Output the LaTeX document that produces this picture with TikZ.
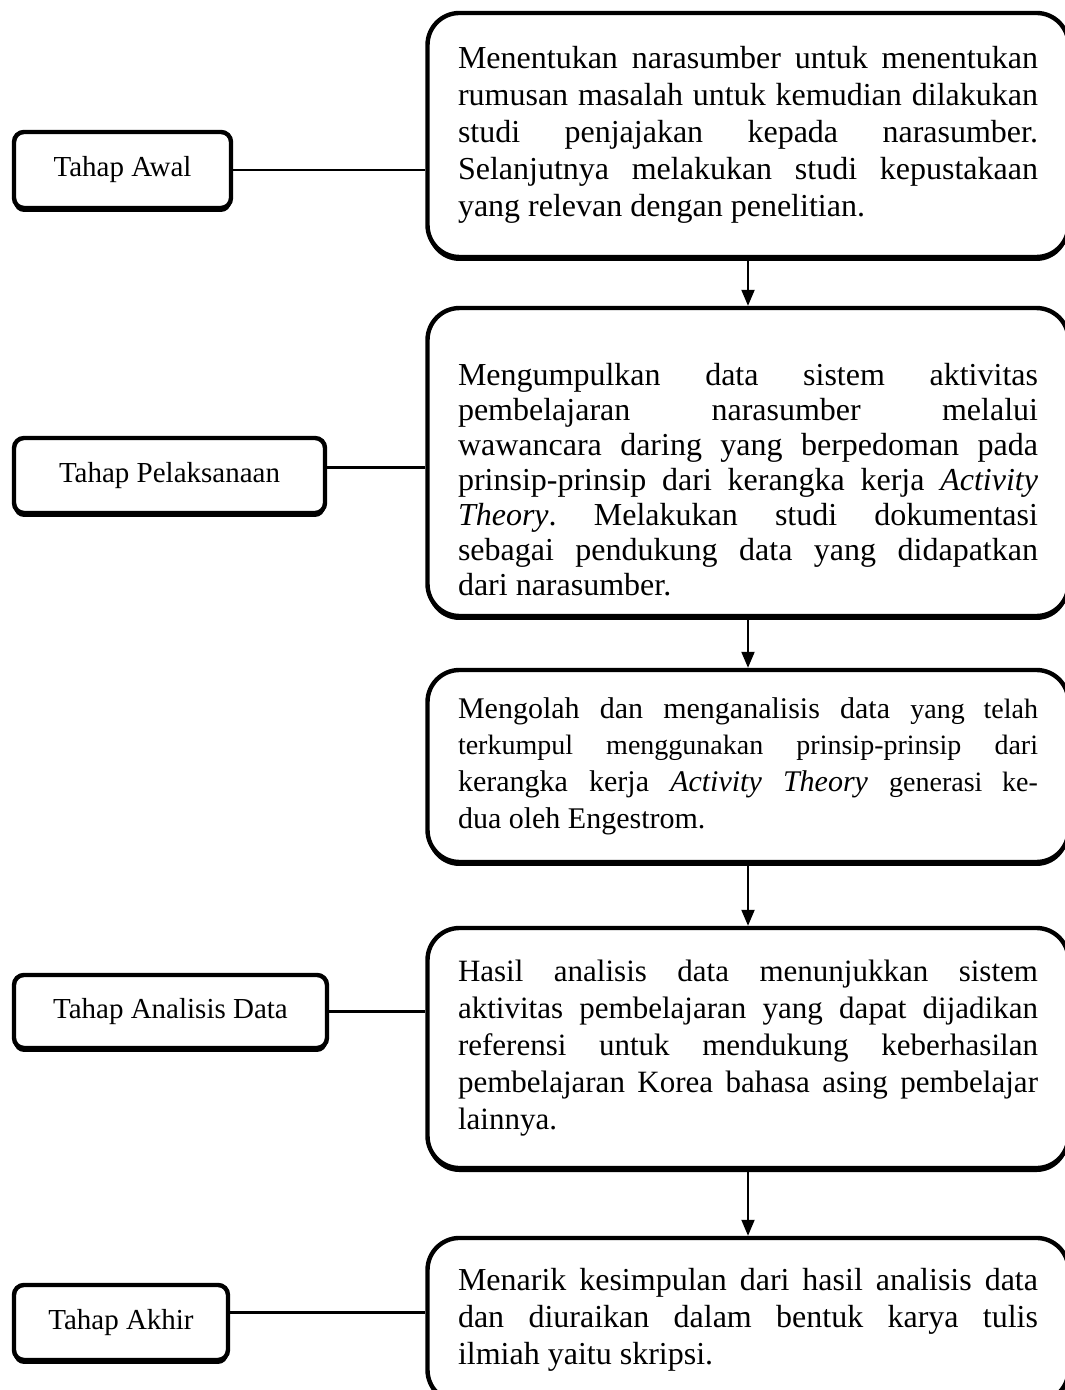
\documentclass[tikz,border=0pt]{standalone}
\usepackage{fontspec}
\setmainfont{Liberation Serif}
\usetikzlibrary{arrows.meta,shadows}
\pgfdeclarelayer{edgelayer}
\pgfdeclarelayer{nodelayer}
\pgfsetlayers{edgelayer,nodelayer,main}
\tolerance=10000
\hbadness=10000
\frenchspacing
\tikzstyle{tahap}=[rectangle,rounded corners=5pt,draw,line width=2.2pt,fill=white,drop shadow={shadow xshift=0pt,shadow yshift=-2pt,opacity=1,fill=black},inner sep=0pt,font=\fontsize{14.5}{17}\selectfont]
\tikzstyle{uraian}=[rectangle,rounded corners=16pt,draw,line width=2.2pt,fill=white,drop shadow={shadow xshift=0pt,shadow yshift=-2pt,opacity=1,fill=black},text width=290pt,inner xsep=15.25pt,align=justify,font=\fontsize{16}{18.5}\selectfont]
\tikzstyle{garis}=[line width=1.4pt]
\tikzstyle{panah}=[line width=1pt,-{Triangle[width=6.5pt,length=8pt]}]

\begin{document}
\begin{tikzpicture}
	\useasboundingbox (0, 0) rectangle (18.715, -24.427);
	\begin{pgfonlayer}{nodelayer}
		\node [style=uraian, minimum height=4.288cm] (0) at (13.145, -2.372) {Menentukan narasumber untuk menentukan\linebreak rumusan masalah untuk kemudian dilakukan\linebreak studi penjajakan kepada narasumber.\linebreak Selanjutnya melakukan studi kepustakaan\linebreak yang relevan dengan penelitian.};
		\node [style=tahap, minimum width=3.813cm, minimum height=1.336cm] (1) at (2.153, -2.987) {Tahap Awal};
		\node [style=uraian, minimum height=5.412cm, font=\fontsize{16}{17.5}\selectfont] (2) at (13.145, -8.119) {\rule{0pt}{29pt}Mengumpulkan data sistem aktivitas\linebreak pembelajaran narasumber melalui\linebreak wawancara daring yang berpedoman pada\linebreak prinsip-prinsip dari kerangka kerja \textit{Activity}\linebreak \textit{Theory}. Melakukan studi dokumentasi\linebreak sebagai pendukung data yang didapatkan\linebreak dari narasumber.};
		\node [style=tahap, minimum width=5.465cm, minimum height=1.318cm] (3) at (2.979, -8.356) {Tahap Pelaksanaan};
		\node [style=uraian, minimum height=3.374cm, font=\fontsize{15}{18.3}\selectfont] (4) at (13.145, -13.461) {Mengolah dan menganalisis data {\fontsize{14}{18.3}\selectfont yang telah}\linebreak {\fontsize{14}{18.3}\selectfont terkumpul menggunakan prinsip-prinsip dari}\linebreak kerangka kerja \textit{Activity Theory} {\fontsize{14}{18.3}\selectfont generasi ke-}\linebreak dua oleh Engestrom.};
		\node [style=uraian, minimum height=4.218cm, font=\fontsize{15.5}{18.5}\selectfont] (5) at (13.145, -18.417) {Hasil analisis data menunjukkan sistem\linebreak aktivitas pembelajaran yang dapat dijadikan\linebreak referensi untuk mendukung keberhasilan\linebreak pembelajaran Korea bahasa asing pembelajar\linebreak lainnya.};
		\node [style=tahap, minimum width=5.5cm, minimum height=1.283cm] (6) at (2.996, -17.775) {Tahap Analisis Data};
		\node [style=uraian, minimum height=2.882cm] (7) at (13.145, -23.196) {Menarik kesimpulan dari hasil analisis data\linebreak dan diuraikan dalam bentuk karya tulis\linebreak ilmiah yaitu skripsi.};
		\node [style=tahap, minimum width=3.761cm, minimum height=1.318cm] (8) at (2.126, -23.240) {Tahap Akhir};
	\end{pgfonlayer}
	\begin{pgfonlayer}{edgelayer}
		\draw [style=garis] (1) to (1 -| 0.west);
		\draw [style=garis] ([yshift=4pt]3.east) to ([yshift=4pt]3.east -| 2.west);
		\draw [style=garis] (6) to (6 -| 5.west);
		\draw [style=garis] ([yshift=5pt]8.east) to ([yshift=5pt]8.east -| 7.west);
		\draw [style=panah] (0) to (2);
		\draw [style=panah] (2) to (4);
		\draw [style=panah] (4) to (5);
		\draw [style=panah] (5) to (7);
	\end{pgfonlayer}
\end{tikzpicture}
\end{document}
